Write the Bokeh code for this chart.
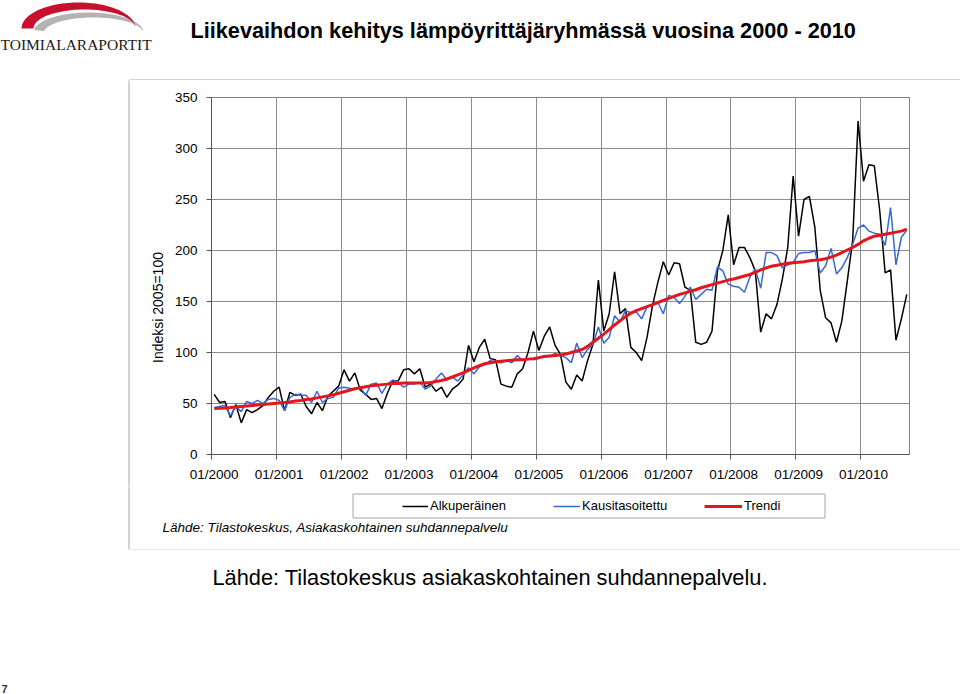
import numpy as np
from bokeh.plotting import figure
from bokeh.layouts import column, row
from bokeh.core.properties import value
from bokeh.models import Range1d, FixedTicker, Legend, LegendItem
from bokeh.embed import file_html
from bokeh.resources import INLINE

# ---------------- data (monthly, 01/2000 - 09/2010) ----------------
months = list(range(129))
tick_positions = [0, 12, 24, 36, 48, 60, 72, 84, 96, 108, 120]
tick_labels = ["01/2000", "01/2001", "01/2002", "01/2003", "01/2004", "01/2005",
               "01/2006", "01/2007", "01/2008", "01/2009", "01/2010"]
y_ticks = [0, 50, 100, 150, 200, 250, 300, 350]

alkuperainen = [
    59, 51, 52, 36, 49, 31, 44, 41, 44, 48, 56, 62,
    66, 43, 61, 58, 59, 47, 40, 51, 43, 57, 62, 67,
    83, 72, 80, 63, 59, 54, 55, 45, 60, 72, 72, 83,
    84, 79, 84, 66, 69, 62, 66, 56, 64, 68, 74, 107,
    91, 105, 113, 94, 93, 69, 67, 66, 79, 84, 100, 121,
    102, 116, 125, 107, 98, 71, 64, 78, 72, 92, 108, 171,
    121, 138, 179, 138, 143, 105, 100, 92, 115, 146, 169, 189,
    176, 188, 187, 164, 161, 110, 108, 110, 121, 180, 200, 235,
    186, 203, 203, 193, 180, 120, 138, 133, 147, 172, 203, 273,
    214, 250, 253, 223, 161, 134, 129, 110, 131, 170, 210, 327,
    268, 284, 283, 239, 178, 181, 112, 133, 157]

kausitasoitettu = [
    46, 47, 48, 38, 47, 42, 52, 50, 53, 50, 54, 55,
    53, 43, 56, 59, 58, 58, 51, 62, 51, 55, 56, 65,
    66, 65, 64, 66, 58, 69, 70, 60, 69, 73, 71, 66,
    69, 69, 71, 64, 67, 74, 80, 73, 76, 72, 78, 85,
    79, 86, 88, 92, 91, 90, 92, 90, 97, 92, 94, 93,
    94, 97, 96, 99, 97, 95, 90, 109, 95, 103, 108, 125,
    109, 115, 136, 130, 141, 139, 140, 133, 145, 146, 149, 138,
    156, 154, 148, 155, 164, 152, 157, 162, 161, 184, 180, 167,
    165, 164, 159, 174, 182, 163, 198, 198, 195, 183, 186, 188,
    197, 198, 198, 200, 178, 185, 202, 177, 183, 193, 206, 222,
    225, 219, 217, 216, 205, 242, 186, 213, 220]

trendi = [
    45, 45.3, 45.7, 46, 46.5, 47, 47.5, 48, 48.5, 49, 49.5, 50,
    50.5, 51, 51.5, 52.5, 53, 54, 54.5, 55.5, 56.5, 57.5, 58.5, 60,
    61.5, 63, 64.5, 65.5, 66.5, 67.5, 68, 68.5, 69, 69.5, 69.5, 70,
    70, 70, 70, 70, 70.5, 71.5, 72.5, 74, 76, 78, 80, 82.5,
    85, 87, 89, 90, 91, 91.5, 92, 92.5, 93, 93, 93.5, 94,
    95, 96, 96.5, 97, 97.5, 98.5, 100, 101.5, 103, 106, 110, 114,
    118, 122.5, 127, 131, 135, 138.5, 141, 143, 145, 147, 149, 151,
    153, 155, 157, 158.5, 160, 161.5, 163.5, 165, 166.5, 168, 169.5, 171,
    172, 173.5, 175, 176.5, 178.5, 181, 183, 184.5, 185.5, 186.5, 187.5, 188,
    188.5, 189, 190, 190.5, 191, 192, 193.5, 195.5, 198, 200.5, 203, 206,
    209.5, 212, 214, 215, 216, 217, 218, 219, 221]

series_names = ["Alkuperäinen", "Kausitasoitettu", "Trendi"]
title_text = "Liikevaihdon kehitys lämpöyrittäjäryhmässä vuosina 2000 - 2010"
y_axis_title = "Indeksi 2005=100"
source_small = "Lähde: Tilastokeskus, Asiakaskohtainen suhdannepalvelu"
source_big = "Lähde: Tilastokeskus asiakaskohtainen suhdannepalvelu."

FONT = "Liberation Sans"
GRID = "#8c8c8c"
BOX = "#a6a6a6"
COLORS = ["black", "#3a67d4", "#e2161d"]
WIDTHS = [1.5, 1.5, 3]


def blank(w, h, x0, x1, y_top, y_bottom):
    """A figure whose frame is the whole canvas, in page pixel coordinates."""
    f = figure(width=w, height=h, output_backend="svg", toolbar_location=None,
               title=None,
               x_range=Range1d(x0, x1), y_range=Range1d(y_bottom, y_top),
               x_axis_location=None, y_axis_location=None,
               min_border=0, min_border_left=0, min_border_right=0,
               min_border_top=0, min_border_bottom=0, frame_align=False)
    f.grid.visible = False
    f.outline_line_color = None
    f.background_fill_color = "white"
    f.border_fill_color = "white"
    return f


# ---------------- header: logo + title ----------------
head = blank(960, 80, 0, 960, 0, 80)


def crescent(cx_o, cy_o, ao, bo, cx_i, cy_i, ai, bi, t0, t1, n=60):
    t = np.linspace(t0, t1, n)
    xo = cx_o + ao * np.cos(t)
    yo = cy_o - bo * np.sin(t)
    xi = cx_i + ai * np.cos(t[::-1])
    yi = cy_i - bi * np.sin(t[::-1])
    return list(np.concatenate([xo, xi])), list(np.concatenate([yo, yi]))


gx, gy = crescent(88, 32, 55, 20, 93, 33, 50, 16, np.radians(8), np.radians(172))
head.patch(gx, gy, fill_color="#b3b3b3", line_color=None)
rx, ry = crescent(78, 28, 57, 26, 84, 28, 51, 19, 0, np.pi)
head.patch(rx, ry, fill_color="#c8102e", line_color=None)
head.text(x=[0], y=[44], text=["TOIMIALARAPORTIT"], text_font=value("Liberation Serif"),
          text_font_size="15.5px", text_color="#1a1a1a",
          text_baseline="middle", text_align="left")
head.text(x=[190], y=[30], text=[title_text], text_font=value(FONT),
          text_font_style="bold", text_font_size="21.7px", text_color="black",
          text_baseline="middle", text_align="left")
head.segment(x0=[129], y0=[79.5], x1=[960], y1=[79.5], line_color=BOX, line_width=1)

# ---------------- left margin of the chart box (with the y axis title) ----------------
left = blank(165, 406, 0, 165, 80, 486)
left.segment(x0=[128.5], y0=[78], x1=[128.5], y1=[492], line_color=BOX, line_width=1)
left.text(x=[157], y=[307], text=[y_axis_title], angle=np.pi / 2,
          text_font=value(FONT), text_font_size="14px", text_color="black",
          text_baseline="middle", text_align="center")

# ---------------- chart ----------------
p = figure(width=795, height=406, output_backend="svg", toolbar_location=None,
           title=None,
           x_range=Range1d(-0.5, 128.5), y_range=Range1d(0, 350),
           min_border_left=46, min_border_right=51, min_border_top=17,
           min_border_bottom=32, frame_align=False)
p.background_fill_color = "white"
p.border_fill_color = "white"
p.outline_line_color = "#808080"
p.outline_line_width = 1

boundaries = [-0.5, 11.5, 23.5, 35.5, 47.5, 59.5, 71.5, 83.5, 95.5, 107.5, 119.5]
p.xaxis.ticker = FixedTicker(ticks=tick_positions, minor_ticks=boundaries)
p.xaxis.major_label_overrides = {t: l for t, l in zip(tick_positions, tick_labels)}
p.xaxis.major_tick_out = 0
p.xaxis.major_tick_in = 0
p.xaxis.minor_tick_out = 5
p.xaxis.minor_tick_in = 0
p.xaxis.major_label_standoff = 7
p.xgrid.grid_line_color = None
p.xgrid.minor_grid_line_color = GRID
p.xgrid.minor_grid_line_width = 1

p.yaxis.ticker = FixedTicker(ticks=y_ticks)
p.yaxis.major_tick_out = 5
p.yaxis.major_tick_in = 0
p.yaxis.minor_tick_out = 0
p.yaxis.minor_tick_in = 0
p.yaxis.major_label_standoff = 9
p.ygrid.grid_line_color = GRID
p.ygrid.grid_line_width = 1

for ax in (p.xaxis, p.yaxis):
    ax.axis_line_color = "#555555"
    ax.major_tick_line_color = "#555555"
    ax.minor_tick_line_color = "#555555"
    ax.major_label_text_font = FONT
    ax.major_label_text_font_size = "13.5px"
    ax.major_label_text_color = "black"

for vals, c, w in zip([alkuperainen, kausitasoitettu, trendi], COLORS, WIDTHS):
    p.line(months, vals, line_color=c, line_width=w)

# ---------------- legend strip + small source ----------------
strip = blank(960, 63, 0, 960, 486, 549)
strip.segment(x0=[128.5], y0=[480], x1=[128.5], y1=[549], line_color=BOX, line_width=1)
strip.quad(left=[352.5], right=[824.5], top=[493.5], bottom=[517.5],
           fill_color=None, line_color=BOX, line_width=1)
# legend sample lines are placed off-canvas; only their legend glyphs are seen
dummies = [strip.line(x=[-20, -10], y=[600, 600], line_color=c, line_width=w)
           for c, w in zip(COLORS, WIDTHS)]
item_x = [402, 553, 704]
glyph_w = [26, 27, 38]
for name, r, x, gw in zip(series_names, dummies, item_x, glyph_w):
    strip.add_layout(Legend(items=[LegendItem(label=name, renderers=[r])],
                            orientation="horizontal", location=(x, 36),
                            glyph_width=gw, glyph_height=14, label_height=14,
                            label_standoff=2, spacing=0, padding=0, margin=0,
                            border_line_color=None, background_fill_alpha=0,
                            label_text_font=FONT, label_text_font_size="13px",
                            label_text_color="black"))
strip.text(x=[162], y=[527], text=[source_small], text_font=value(FONT),
           text_font_style="italic", text_font_size="13.5px", text_color="black",
           text_baseline="middle", text_align="left")

# ---------------- footer ----------------
foot = blank(960, 145, 0, 960, 549, 694)
foot.segment(x0=[129], y0=[548.5], x1=[960], y1=[548.5], line_color=BOX, line_width=1)
foot.segment(x0=[128.5], y0=[545], x1=[128.5], y1=[549], line_color=BOX, line_width=1)
foot.text(x=[212], y=[577], text=[source_big], text_font=value(FONT),
          text_font_size="21.8px", text_color="black",
          text_baseline="middle", text_align="left")
foot.text(x=[1], y=[688], text=["7"], text_font=value(FONT), text_font_style="bold",
          text_font_size="11px", text_color="#333333",
          text_baseline="middle", text_align="left")

layout = column(head, row(left, p), strip, foot)
open("out.html", "w").write(file_html(layout, INLINE))
